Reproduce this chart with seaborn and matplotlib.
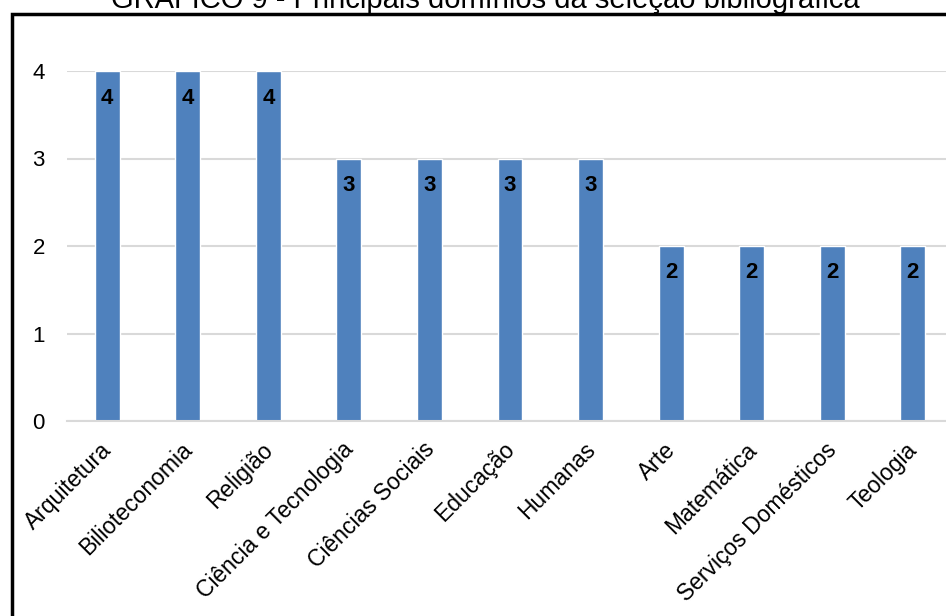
import matplotlib
matplotlib.use("Agg")
import matplotlib.pyplot as plt
from matplotlib.patches import Rectangle
from matplotlib.transforms import ScaledTranslation
import seaborn as sns
import pandas as pd

categorias = ["Arquitetura", "Bilioteconomia", "Religião", "Ciência e Tecnologia",
              "Ciências Sociais", "Educação", "Humanas", "Arte", "Matemática",
              "Serviços Domésticos", "Teologia"]
quantidades = [4, 4, 4, 3, 3, 3, 3, 2, 2, 2, 2]
ticks_y = [0, 1, 2, 3, 4]
titulo = "GRÁFICO 9 - Principais domínios da seleção bibliográfica"

sns.set_theme(style="white")
plt.rcParams["font.family"] = ["Liberation Sans", "DejaVu Sans"]

df = pd.DataFrame({"dominio": categorias, "qtd": quantidades})

fig = plt.figure(figsize=(9.46, 6.16), dpi=100)
ax = fig.add_axes([67 / 946, 1 - 421 / 616, 886 / 946, 350 / 616])

sns.barplot(data=df, x="dominio", y="qtd", color="#4F81BD", saturation=1,
            width=0.31, ax=ax)

ax.set_ylim(0, 4)
ax.set_xlim(-0.5, len(categorias) - 0.5)
ax.set_yticks(ticks_y)
ax.yaxis.grid(True, color="#D9D9D9", linewidth=1.5)
ax.set_axisbelow(True)
for side in ["top", "right", "left"]:
    ax.spines[side].set_visible(False)
ax.spines["bottom"].set_color("#D9D9D9")
ax.spines["bottom"].set_linewidth(1.5)
ax.set_xlabel("")
ax.set_ylabel("")
ax.tick_params(axis="y", length=0, pad=16, labelsize=16, colors="black")
ax.tick_params(axis="x", length=0, pad=8, labelsize=16.5, colors="black")
shift = ScaledTranslation(-7 / 100, -6 / 100, fig.dpi_scale_trans)
for lbl in ax.get_xticklabels():
    lbl.set_rotation(45)
    lbl.set_ha("right")
    lbl.set_rotation_mode("anchor")
    lbl.set_transform(lbl.get_transform() + shift)

for i, v in enumerate(quantidades):
    ax.annotate(str(v), (i, v), xytext=(0, -27), textcoords="offset pixels",
                ha="center", va="center", fontsize=16, fontweight="bold",
                color="black")

# outer frame of the figure panel
fig.add_artist(Rectangle((12 / 946, -0.1), 1.0, 1 - 13.5 / 616 + 0.1,
                         transform=fig.transFigure, fill=False,
                         edgecolor="black", linewidth=2.5))

fig.text(485 / 946, 1 - 8 / 616, titulo, ha="center", va="baseline",
         fontsize=21, color="black")

fig.savefig("out.png", dpi=100)
